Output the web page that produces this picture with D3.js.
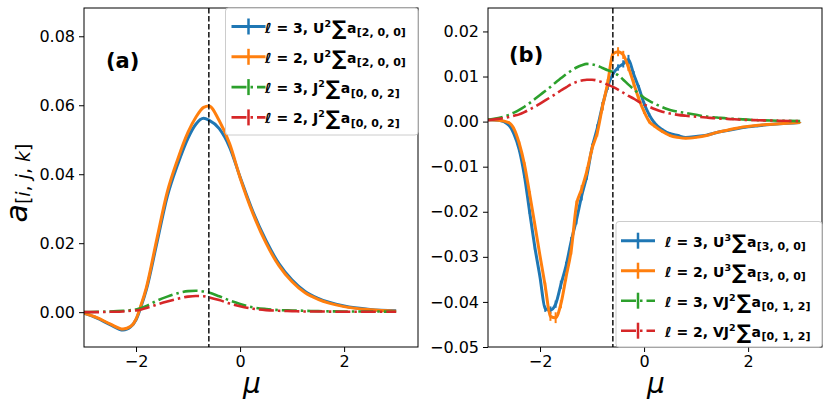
<!DOCTYPE html>
<html>
<head>
<meta charset="utf-8">
<script src="https://cdn.jsdelivr.net/npm/d3@7"></script>
<style>
  body { margin: 0; background: #fff; }
  svg { font-family: "DejaVu Sans", sans-serif; }
</style>
</head>
<body>
<svg id="chart" width="830" height="411"></svg>
<script>
// ---- panel (a) data ----
const muA = [-3, -2.75, -2.5, -2.25, -2.1, -2.0, -1.9, -1.8, -1.6, -1.4, -1.2, -1.0, -0.85, -0.7, -0.6, -0.4, -0.2, 0, 0.25, 0.5, 0.75, 1.0, 1.25, 1.5, 2.0, 2.5, 3.0]
const aU2l3 = [-0.0003, -0.0017, -0.0036, -0.0052, -0.0042, -0.0022, 0.0018, 0.0066, 0.0200, 0.0335, 0.0428, 0.0505, 0.0545, 0.0562, 0.0557, 0.0532, 0.0478, 0.0392, 0.0290, 0.0207, 0.0140, 0.0093, 0.0060, 0.0040, 0.0018, 0.0008, 0.0004]
const aU2l2 = [-0.0003, -0.0016, -0.0034, -0.0049, -0.0041, -0.0020, 0.0022, 0.0072, 0.0212, 0.0348, 0.0443, 0.0522, 0.0565, 0.0594, 0.0598, 0.0555, 0.0488, 0.0390, 0.0285, 0.0200, 0.0134, 0.0088, 0.0056, 0.0037, 0.0016, 0.0007, 0.0003]
const aJ2l3 = [0.0, 0.0001, 0.0002, 0.0004, 0.0006, 0.0008, 0.0012, 0.0018, 0.0033, 0.0045, 0.0055, 0.0061, 0.0062, 0.0060, 0.0057, 0.0046, 0.0034, 0.0024, 0.0014, 0.0009, 0.0006, 0.0005, 0.0004, 0.0003, 0.0002, 0.0002, 0.0001]
const aJ2l2 = [0.0, 0.0, 0.0001, 0.0002, 0.0004, 0.0005, 0.0008, 0.0012, 0.0022, 0.0031, 0.0039, 0.0045, 0.0047, 0.0046, 0.0043, 0.0035, 0.0025, 0.0017, 0.0010, 0.0006, 0.0004, 0.0003, 0.0002, 0.0002, 0.0001, 0.0001, 0.0001]

// ---- panel (b) data ----
const muB = [-3, -2.8, -2.6, -2.5, -2.4, -2.3, -2.2, -2.1, -2.0, -1.9, -1.8, -1.7, -1.6, -1.5, -1.4, -1.3, -1.2, -1.1, -1.0, -0.9, -0.8, -0.7, -0.6, -0.5, -0.4, -0.3, -0.2, -0.1, 0, 0.1, 0.2, 0.35, 0.5, 0.65, 0.8, 1.0, 1.2, 1.4, 1.6, 1.9, 2.2, 2.6, 3.0]
const bU3l3 = [0.0004, 0.0003, -0.0008, -0.0028, -0.0062, -0.0120, -0.0200, -0.0278, -0.0345, -0.0415, -0.0418, -0.0405, -0.0362, -0.0320, -0.0265, -0.0218, -0.0165, -0.0120, -0.0058, -0.0015, 0.0035, 0.0078, 0.0105, 0.0120, 0.0128, 0.0138, 0.0105, 0.0075, 0.0040, 0.0015, -0.0003, -0.0018, -0.0027, -0.0031, -0.0035, -0.0033, -0.0030, -0.0024, -0.0020, -0.0013, -0.0009, -0.0005, -0.0002]
const bU3l2 = [0.0004, 0.0003, -0.0002, -0.0016, -0.0048, -0.0095, -0.0160, -0.0228, -0.0298, -0.0365, -0.0432, -0.0435, -0.0405, -0.0345, -0.0285, -0.0185, -0.0150, -0.0110, -0.0060, -0.0025, 0.0033, 0.0085, 0.0150, 0.0155, 0.0148, 0.0120, 0.0085, 0.0050, 0.0022, 0.0000, -0.0010, -0.0022, -0.0031, -0.0035, -0.0037, -0.0035, -0.0031, -0.0024, -0.0019, -0.0012, -0.0008, -0.0005, -0.0002]
const bVJ2l3 = [0.0004, 0.0008, 0.0015, 0.0020, 0.0026, 0.0033, 0.0041, 0.0050, 0.0059, 0.0068, 0.0077, 0.0087, 0.0096, 0.0105, 0.0113, 0.0120, 0.0125, 0.0128, 0.0127, 0.0124, 0.0119, 0.0114, 0.0110, 0.0103, 0.0093, 0.0082, 0.0072, 0.0062, 0.0053, 0.0046, 0.0040, 0.0032, 0.0026, 0.0022, 0.0019, 0.0015, 0.0011, 0.0009, 0.0007, 0.0005, 0.0003, 0.0002, 0.0001]
const bVJ2l2 = [0.0003, 0.0006, 0.0010, 0.0013, 0.0016, 0.0021, 0.0027, 0.0033, 0.0040, 0.0047, 0.0054, 0.0061, 0.0069, 0.0076, 0.0083, 0.0088, 0.0091, 0.0093, 0.0093, 0.0091, 0.0087, 0.0082, 0.0077, 0.0071, 0.0064, 0.0057, 0.0051, 0.0044, 0.0038, 0.0033, 0.0028, 0.0022, 0.0018, 0.0015, 0.0013, 0.0011, 0.0009, 0.0007, 0.0006, 0.0004, 0.0003, 0.0002, 0.0001]
// error bars on the U^3 curves
const errU3l3 = [0.0001, 0.0001, 0.0002, 0.0003, 0.0004, 0.0005, 0.0005, 0.0006, 0.0006, 0.0007, 0.0008, 0.0008, 0.0009, 0.0009, 0.0009, 0.0010, 0.0010, 0.0009, 0.0009, 0.0009, 0.0009, 0.0008, 0.0008, 0.0007, 0.0008, 0.0010, 0.0007, 0.0006, 0.0005, 0.0004, 0.0003, 0.0003, 0.0003, 0.0002, 0.0002, 0.0002, 0.0002, 0.0002, 0.0002, 0.0001, 0.0001, 0.0001, 0.0001]
const errU3l2 = [0.0001, 0.0001, 0.0002, 0.0003, 0.0004, 0.0005, 0.0006, 0.0006, 0.0007, 0.0008, 0.0010, 0.0012, 0.0009, 0.0009, 0.0010, 0.0010, 0.0009, 0.0009, 0.0009, 0.0008, 0.0009, 0.0009, 0.0010, 0.0010, 0.0009, 0.0008, 0.0007, 0.0006, 0.0005, 0.0004, 0.0003, 0.0003, 0.0003, 0.0002, 0.0002, 0.0002, 0.0002, 0.0002, 0.0002, 0.0001, 0.0001, 0.0001, 0.0001]

const muStar = -0.6
const xTicks = [-2, 0, 2]
const yTicksA = [0.00, 0.02, 0.04, 0.06, 0.08]
const yTicksB = [-0.05, -0.04, -0.03, -0.02, -0.01, 0.00, 0.01, 0.02]

// legend text pieces: [l, operator, power, indices]
const legendA = [["3", "U", "2", "[2, 0, 0]"], ["2", "U", "2", "[2, 0, 0]"], ["3", "J", "2", "[0, 0, 2]"], ["2", "J", "2", "[0, 0, 2]"]]
const legendB = [["3", "U", "3", "[3, 0, 0]"], ["2", "U", "3", "[3, 0, 0]"], ["3", "VJ", "2", "[0, 1, 2]"], ["2", "VJ", "2", "[0, 1, 2]"]]

const colors = ["#1f77b4", "#ff7f0e", "#2ca02c", "#d62728"]
const dashes = [null, null, "15,4,2.5,4", "15,4,2.5,4"]

let svg = d3.select("#chart")

function drawPanel(p) {
  let x = d3.scaleLinear().domain([-3.0, 3.42]).range([p.left, p.right])
  let y = d3.scaleLinear().domain(p.yDomain).range([p.bottom, p.top])
  let g = svg.append("g")

  let clipId = "clip" + p.name
  svg.append("clipPath").attr("id", clipId)
    .append("rect")
    .attr("x", p.left).attr("y", p.top)
    .attr("width", p.right - p.left).attr("height", p.bottom - p.top)

  let plot = g.append("g").attr("clip-path", "url(#" + clipId + ")")

  p.series.forEach(function (s, i) {
    let pts = p.mu.map(function (m, j) { return [m, s[j]] })
    if (p.errs && p.errs[i]) {
      plot.append("g").selectAll("line")
        .data(pts)
        .enter()
        .append("line")
        .attr("x1", function (d) { return x(d[0]) })
        .attr("x2", function (d) { return x(d[0]) })
        .attr("y1", function (d, j) { return y(d[1] - p.errs[i][j]) })
        .attr("y2", function (d, j) { return y(d[1] + p.errs[i][j]) })
        .attr("stroke", colors[i])
        .attr("stroke-width", 2)
    }
    let line = d3.line()
      .x(function (d) { return x(d[0]) })
      .y(function (d) { return y(d[1]) })
      .curve(d3.curveMonotoneX)
    plot.append("path")
      .datum(pts)
      .attr("d", line)
      .attr("fill", "none")
      .attr("stroke", colors[i])
      .attr("stroke-width", i < 2 ? 3 : 2.6)
      .attr("stroke-dasharray", dashes[i])
  })

  // dashed marker
  g.append("line")
    .attr("x1", x(muStar)).attr("x2", x(muStar))
    .attr("y1", p.top).attr("y2", p.bottom)
    .attr("stroke", "#000")
    .attr("stroke-width", 1.4)
    .attr("stroke-dasharray", "5.5,2.5")

  // axes
  let xAxis = d3.axisBottom(x).tickValues(xTicks).tickSize(5).tickPadding(4).tickFormat(d3.format("d"))
  let yAxis = d3.axisLeft(y).tickValues(p.yTicks).tickSize(5).tickPadding(4).tickFormat(d3.format(".2f"))
  let gx = g.append("g").attr("transform", "translate(0," + p.bottom + ")").call(xAxis)
  let gy = g.append("g").attr("transform", "translate(" + p.left + ",0)").call(yAxis)
  ;[gx, gy].forEach(function (a) {
    a.select(".domain").remove()
    a.selectAll("text").attr("font-size", 16).attr("font-family", "DejaVu Sans").attr("fill", "#000")
    a.selectAll("line").attr("stroke", "#000").attr("stroke-width", 1)
  })

  g.append("rect")
    .attr("x", p.left).attr("y", p.top)
    .attr("width", p.right - p.left).attr("height", p.bottom - p.top)
    .attr("fill", "none").attr("stroke", "#000").attr("stroke-width", 1)

  // panel tag
  g.append("text")
    .attr("x", p.tagX).attr("y", p.tagY)
    .attr("font-size", 21).attr("font-weight", "bold")
    .text(p.tag)

  // x label
  g.append("text")
    .attr("x", (p.left + p.right) / 2 + 1).attr("y", 393)
    .attr("text-anchor", "middle")
    .attr("font-size", 28).attr("font-style", "italic")
    .text("μ")

  // legend
  let lg = g.append("g")
  lg.append("rect")
    .attr("x", p.leg.x).attr("y", p.leg.y)
    .attr("width", p.leg.w).attr("height", p.leg.h)
    .attr("rx", 3)
    .attr("fill", "#fff").attr("fill-opacity", 0.85)
    .attr("stroke", "#cccccc").attr("stroke-width", 1)

  p.legend.forEach(function (parts, i) {
    let cy = p.leg.row0 + i * p.leg.dy
    lg.append("line")
      .attr("x1", p.leg.hx).attr("x2", p.leg.hx + 34)
      .attr("y1", cy).attr("y2", cy)
      .attr("stroke", colors[i]).attr("stroke-width", i < 2 ? 3 : 2.6)
      .attr("stroke-dasharray", dashes[i])
    lg.append("line")
      .attr("x1", p.leg.hx + 17).attr("x2", p.leg.hx + 17)
      .attr("y1", cy - 8).attr("y2", cy + 8)
      .attr("stroke", colors[i]).attr("stroke-width", 2.5)

    let t = lg.append("text")
      .attr("x", p.leg.tx).attr("y", cy + 6)
      .attr("font-size", 14).attr("font-weight", "bold")
    t.append("tspan").attr("font-style", "italic").text("ℓ")
    t.append("tspan").text(" = " + parts[0] + ", " + parts[1])
    t.append("tspan").attr("font-size", 9.5).attr("dy", -6).text(parts[2])
    t.append("tspan").attr("font-size", 20).attr("dy", 8).attr("dx", 1).text("∑")
    t.append("tspan").attr("font-size", 14).attr("dy", -2).attr("dx", 0.5).text("a")
    t.append("tspan").attr("font-size", 11).attr("dy", 3.5).attr("dx", 0.5).text(parts[3])
  })
}

drawPanel({
  name: "A", left: 84, right: 418, top: 8, bottom: 347,
  yDomain: [-0.0101, 0.0882], yTicks: yTicksA,
  mu: muA, series: [aU2l3, aU2l2, aJ2l3, aJ2l2], errs: null,
  tag: "(a)", tagX: 106, tagY: 68,
  legend: legendA,
  leg: { x: 225.5, y: 8, w: 192.5, h: 127, row0: 26.5, dy: 30.3, hx: 231.5, tx: 265 }
})

drawPanel({
  name: "B", left: 488, right: 822, top: 8, bottom: 347,
  yDomain: [-0.05, 0.0252], yTicks: yTicksB,
  mu: muB, series: [bU3l3, bU3l2, bVJ2l3, bVJ2l2], errs: [errU3l3, errU3l2, null, null],
  tag: "(b)", tagX: 509, tagY: 62,
  legend: legendB,
  leg: { x: 616, y: 221.5, w: 206, h: 125.5, row0: 240.7, dy: 30, hx: 621, tx: 665 }
})

// y label
let yl = svg.append("text")
  .attr("transform", "translate(27,183) rotate(-90)")
  .attr("text-anchor", "middle")
  .attr("font-size", 30)
yl.append("tspan").attr("font-style", "italic").text("a")
yl.append("tspan").attr("font-size", 19).attr("dy", 3).text("[")
yl.append("tspan").attr("font-size", 19).attr("font-style", "italic").text("i")
yl.append("tspan").attr("font-size", 19).text(", ")
yl.append("tspan").attr("font-size", 19).attr("font-style", "italic").text("j")
yl.append("tspan").attr("font-size", 19).text(", ")
yl.append("tspan").attr("font-size", 19).attr("font-style", "italic").text("k")
yl.append("tspan").attr("font-size", 19).text("]")
</script>
</body>
</html>
